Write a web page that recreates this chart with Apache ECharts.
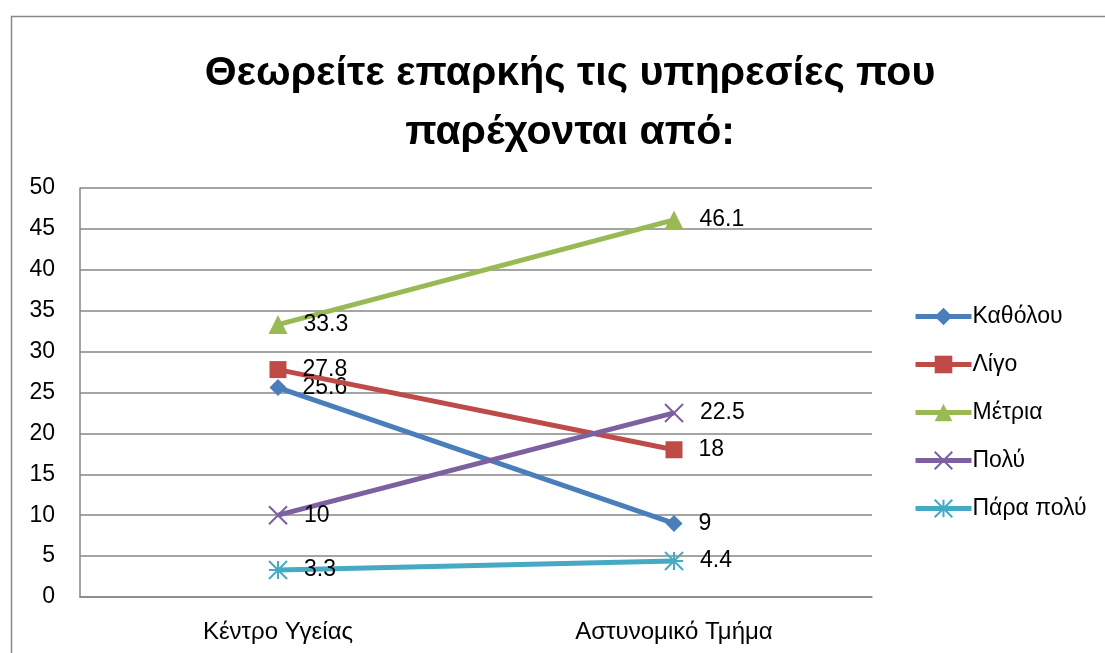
<!DOCTYPE html>
<html>
<head>
<meta charset="utf-8">
<script src="https://cdn.jsdelivr.net/npm/echarts@6/dist/echarts.min.js"></script>
<style>html,body{margin:0;padding:0;background:#fff}#c{width:1105px;height:653px}</style>
</head>
<body>
<div id="c"></div>
<script>
const titleText = 'Θεωρείτε επαρκής τις υπηρεσίες που\nπαρέχονται από:';
const categories = ['Κέντρο Υγείας', 'Αστυνομικό Τμήμα'];
const seriesNames = ['Καθόλου', 'Λίγο', 'Μέτρια', 'Πολύ', 'Πάρα πολύ'];
const katholou = [25.6, 9];
const ligo = [27.8, 18];
const metria = [33.3, 46.1];
const poly = [10, 22.5];
const paraPoly = [3.3, 4.4];
const yTicks = {min: 0, max: 50, interval: 5};

const values = [katholou, ligo, metria, poly, paraPoly];
const colors = ['#4a7ebb', '#be4b48', '#98b954', '#7d60a0', '#46aac5'];
const symbols = [
  'diamond',
  'rect',
  'triangle',
  'path://M0,0L10,10M10,0L0,10',
  'path://M5,0L5,10M0,0L10,10M10,0L0,10M0,5L10,5'
];
const symbolSizes = [17, 17, 19, 18, 18];
const FONT = 'Liberation Sans';

const chart = echarts.init(document.getElementById('c'), null, {renderer: 'canvas'});
chart.setOption({
  animation: false,
  backgroundColor: '#fff',
  textStyle: {fontFamily: FONT},
  title: {
    text: titleText,
    left: 565, top: 39, textAlign: 'center',
    textStyle: {fontFamily: FONT, fontWeight: 'bold', fontSize: 41, lineHeight: 59, color: '#000'}
  },
  graphic: [{
    type: 'rect', shape: {x: 11.5, y: 16.5, width: 1200, height: 700},
    style: {fill: 'none', stroke: '#898989', lineWidth: 1.5}, silent: true, z: -10
  }],
  grid: {left: 80, right: 233, top: 188, bottom: 56, containLabel: false},
  legend: {
    orient: 'vertical', left: 908, top: 300, itemWidth: 56, itemHeight: 22, itemGap: 25,
    lineStyle: {width: 5},
    textStyle: {fontFamily: FONT, fontSize: 23, color: '#000', padding: [0, 0, 0, -4]},
    data: seriesNames
  },
  xAxis: {
    type: 'category', data: categories, boundaryGap: true,
    axisLine: {show: true, lineStyle: {color: '#868686', width: 1.5}},
    axisTick: {show: false},
    axisLabel: {fontFamily: FONT, fontSize: 24, color: '#000', margin: 23}
  },
  yAxis: {
    type: 'value', min: yTicks.min, max: yTicks.max, interval: yTicks.interval,
    axisLine: {show: true, lineStyle: {color: '#868686', width: 1.5}},
    axisTick: {show: false},
    axisLabel: {fontFamily: FONT, fontSize: 23, color: '#000', margin: 25},
    splitLine: {lineStyle: {color: '#868686', width: 1.5}}
  },
  series: seriesNames.map((n, i) => ({
    name: n, type: 'line', data: values[i],
    symbol: symbols[i], symbolSize: symbolSizes[i],
    lineStyle: {color: colors[i], width: 5},
    itemStyle: i >= 3
      ? {color: colors[i], borderColor: colors[i], borderWidth: 2}
      : {color: colors[i]},
    label: {show: true, position: 'right', distance: 16, fontFamily: FONT, fontSize: 23, color: '#000'},
    z: 2 + i
  }))
});
</script>
</body>
</html>
